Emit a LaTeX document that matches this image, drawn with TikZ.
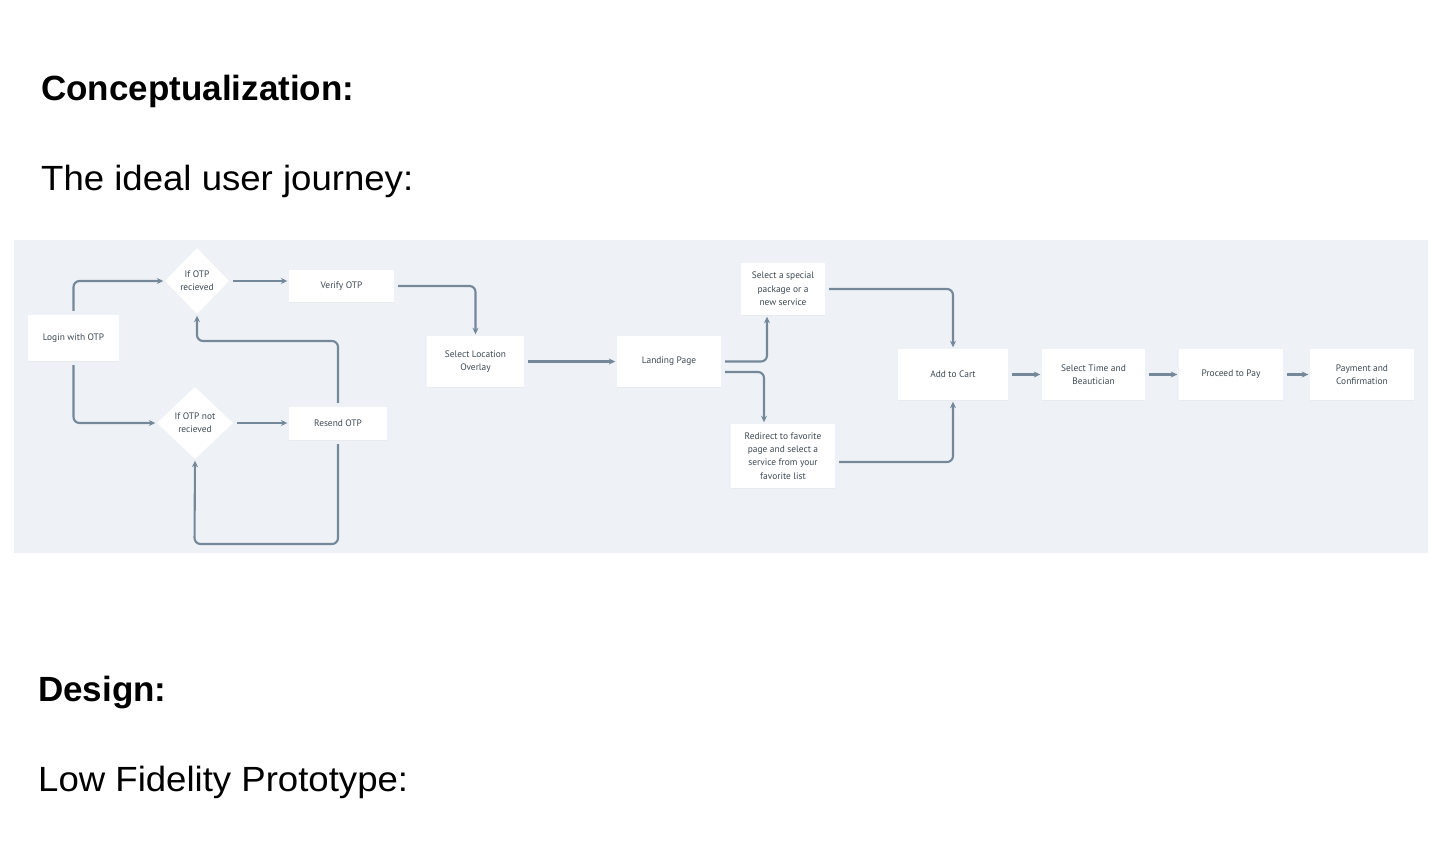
\documentclass[tikz,border=0pt]{standalone}
\usepackage{fontspec}
\setmainfont{Liberation Sans}
\newfontfamily\widefont[FakeStretch=1.045]{Liberation Sans}
\newfontfamily\flowfont{PT Sans}
\usetikzlibrary{arrows.meta,shapes.geometric,shadows}

\definecolor{panelbg}{HTML}{EEF2F6}
\definecolor{linecol}{HTML}{74889A}
\definecolor{boxtext}{HTML}{3E4953}

\tikzset{
  heading/.style={anchor=base west, inner sep=0pt, font=\fontsize{35}{40}\selectfont\bfseries},
  subheading/.style={anchor=base west, inner sep=0pt, font=\widefont\fontsize{35}{40}\selectfont},
  stepbox/.style={draw=none, fill=white, inner sep=0pt, align=center,
    text=boxtext, font=\flowfont\fontsize{9.4}{13.3}\selectfont,
    drop shadow={opacity=0.06, shadow xshift=0pt, shadow yshift=-1pt}},
  decision/.style={diamond, draw=none, fill=white, inner sep=0pt, align=center,
    text=boxtext, font=\flowfont\fontsize{9.4}{13.3}\selectfont},
  flow/.style={draw=linecol, line width=2.1pt, rounded corners=6pt,
    -{Stealth[length=6.5pt,width=6pt]}, shorten <=4pt, shorten >=1.5pt},
}

\begin{document}
\begin{tikzpicture}[x=1pt, y=-1pt]
  \useasboundingbox (0,0) rectangle (1437,844);

  % section titles
  \node[heading] (t1) at (41,100) {Conceptualization:};
  \node[subheading] (t2) at (41,190) {The ideal user journey:};
  \node[heading] (t3) at (38,701) {Design:};
  \node[subheading] (t4) at (38,791) {Low Fidelity Prototype:};

  % flowchart panel
  \fill[panelbg] (14,240) rectangle (1428,553);

  % login and OTP handling
  \node[stepbox, minimum width=91pt, minimum height=46pt] (login) at (73.5,338) {Login with OTP};
  \node[decision, minimum width=64pt, minimum height=66pt] (got) at (197,281) {If OTP\\recieved};
  \node[decision, minimum width=76pt, minimum height=72pt] (notgot) at (195,423) {If OTP not\\recieved};
  \node[stepbox, minimum width=105pt, minimum height=32pt] (verify) at (341.5,286) {Verify OTP};
  \node[stepbox, minimum width=98pt, minimum height=33pt] (resend) at (338,423.5) {Resend OTP};

  % location and landing
  \node[stepbox, minimum width=97pt, minimum height=51pt] (loc) at (475.5,361.5) {Select Location\\Overlay};
  \node[stepbox, minimum width=104pt, minimum height=51pt] (land) at (669,361.5) {Landing Page};
  \node[stepbox, minimum width=84pt, minimum height=52pt] (special) at (783,289) {Select a special\\package or a\\new service};
  \node[stepbox, minimum width=104pt, minimum height=64pt] (fav) at (783,456) {Redirect to favorite\\page and select a\\service from your\\favorite list};

  % checkout
  \node[stepbox, minimum width=110pt, minimum height=51pt] (cart) at (953,374.5) {Add to Cart};
  \node[stepbox, minimum width=103pt, minimum height=51pt] (time) at (1093.5,374.5) {Select Time and\\Beautician};
  \node[stepbox, minimum width=104pt, minimum height=51pt] (pay) at (1231,374.5) {Proceed to Pay};
  \node[stepbox, minimum width=104pt, minimum height=51pt] (confirm) at (1362,374.5) {Payment and\\Confirmation};

  % bend points of the resend loops
  \coordinate (loopA) at (197,341);
  \coordinate (loopB) at (194.5,544);

  % connectors
  \draw[flow] (login.north) |- (got.west);
  \draw[flow] (login.south) |- (notgot.west);
  \draw[flow] (got.east) -- (verify.west |- got.east);
  \draw[flow] (notgot.east) -- (resend.west |- notgot.east);
  \draw[flow] (resend.north) |- (loopA) -- (got.south);
  \draw[flow] (resend.south) |- (loopB) -- (notgot.south);
  \draw[flow] (verify.east) -| (loc.north);
  \draw[flow] (loc.east) -- (land.west);
  \draw[flow] (land.east) -| ([xshift=-16pt]special.south);
  \draw[flow] ([yshift=-10.5pt]land.east) -| ([xshift=-19pt]fav.north);
  \draw[flow] (special.east) -| (cart.north);
  \draw[flow] ([yshift=-6pt]fav.east) -| (cart.south);
  \draw[flow] (cart.east) -- (time.west);
  \draw[flow] (time.east) -- (pay.west);
  \draw[flow] (pay.east) -- (confirm.west);
\end{tikzpicture}
\end{document}
